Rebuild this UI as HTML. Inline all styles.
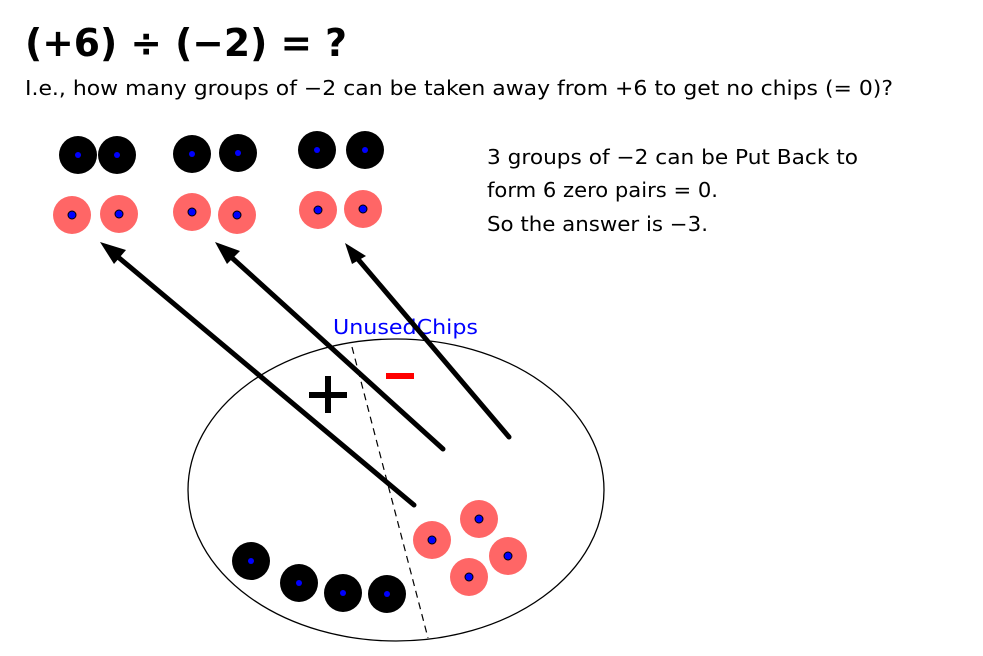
<!DOCTYPE html>
<html><head><meta charset="utf-8"><style>html,body{margin:0;padding:0;background:#fff}svg{display:block}</style></head>
<body>
<svg width="983" height="656" viewBox="0 0 983 656" xmlns="http://www.w3.org/2000/svg" font-family="'DejaVu Sans','Liberation Sans',sans-serif">
<text x="25" y="56" font-size="38" font-weight="bold" textLength="322" lengthAdjust="spacingAndGlyphs">(+6) ÷ (−2) = ?</text>
<text x="25" y="95" font-size="20" textLength="868" lengthAdjust="spacingAndGlyphs">I.e., how many groups of −2 can be taken away from +6 to get no chips (= 0)?</text>
<g font-size="20">
<text x="487" y="164" textLength="371" lengthAdjust="spacingAndGlyphs">3 groups of −2 can be Put Back to</text>
<text x="487" y="197" textLength="231" lengthAdjust="spacingAndGlyphs">form 6 zero pairs = 0.</text>
<text x="487" y="231" textLength="221" lengthAdjust="spacingAndGlyphs">So the answer is −3.</text>
</g>
<text x="333" y="334" font-size="20" fill="#0000ff" textLength="145" lengthAdjust="spacingAndGlyphs">UnusedChips</text>
<ellipse cx="396" cy="490" rx="208" ry="151" fill="none" stroke="#000" stroke-width="1.3"/>
<line x1="352" y1="347" x2="428" y2="638" stroke="#000" stroke-width="1.2" stroke-dasharray="7,5"/>
<rect x="309" y="392" width="38" height="6" fill="#000"/>
<rect x="325" y="376" width="6" height="37" fill="#000"/>
<rect x="386" y="373" width="28" height="6" fill="#ff0000"/>
<g fill="#000">
<circle cx="78" cy="155" r="19"/><circle cx="117" cy="155" r="19"/>
<circle cx="192" cy="154" r="19"/><circle cx="238" cy="153" r="19"/>
<circle cx="317" cy="150" r="19"/><circle cx="365" cy="150" r="19"/>
<circle cx="251" cy="561" r="19"/><circle cx="299" cy="583" r="19"/>
<circle cx="343" cy="593" r="19"/><circle cx="387" cy="594" r="19"/>
</g>
<g fill="#ff6666">
<circle cx="72" cy="215" r="19"/><circle cx="119" cy="214" r="19"/>
<circle cx="192" cy="212" r="19"/><circle cx="237" cy="215" r="19"/>
<circle cx="318" cy="210" r="19"/><circle cx="363" cy="209" r="19"/>
<circle cx="432" cy="540" r="19"/><circle cx="479" cy="519" r="19"/>
<circle cx="508" cy="556" r="19"/><circle cx="469" cy="577" r="19"/>
</g>
<g fill="#0000ff">
<circle cx="78" cy="155" r="3"/><circle cx="117" cy="155" r="3"/>
<circle cx="192" cy="154" r="3"/><circle cx="238" cy="153" r="3"/>
<circle cx="317" cy="150" r="3"/><circle cx="365" cy="150" r="3"/>
<circle cx="251" cy="561" r="3"/><circle cx="299" cy="583" r="3"/>
<circle cx="343" cy="593" r="3"/><circle cx="387" cy="594" r="3"/>
</g>
<g fill="#0000ff" stroke="#000" stroke-width="1">
<circle cx="72" cy="215" r="4"/><circle cx="119" cy="214" r="4"/>
<circle cx="192" cy="212" r="4"/><circle cx="237" cy="215" r="4"/>
<circle cx="318" cy="210" r="4"/><circle cx="363" cy="209" r="4"/>
<circle cx="432" cy="540" r="4"/><circle cx="479" cy="519" r="4"/>
<circle cx="508" cy="556" r="4"/><circle cx="469" cy="577" r="4"/>
</g>
<g stroke="#000" stroke-width="5" stroke-linecap="round">
<line x1="414" y1="505" x2="118" y2="257"/>
<line x1="443" y1="449" x2="230" y2="256"/>
<line x1="509" y1="437" x2="357" y2="258"/>
</g>
<g fill="#000">
<polygon points="100,242 126,250 114,264"/>
<polygon points="215,242 240,251 227,264"/>
<polygon points="345,243 366,256 352,264"/>
</g>
</svg>
</body></html>
